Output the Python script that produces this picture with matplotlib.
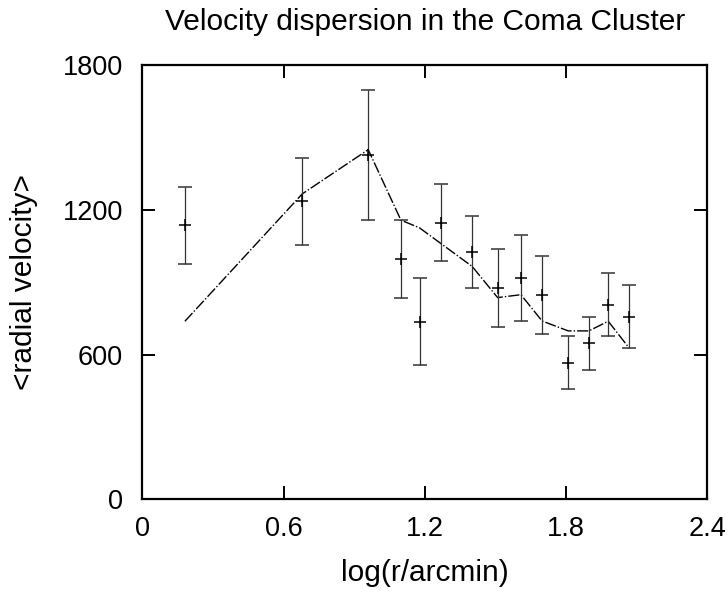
import numpy as np
import matplotlib
matplotlib.use("Agg")
import matplotlib.pyplot as plt

plt.rcParams['font.family'] = ['Liberation Sans', 'DejaVu Sans']

# measured velocity dispersion with errors
log_r = [0.181, 0.680, 0.960, 1.099, 1.178, 1.269, 1.402, 1.510, 1.609,
         1.699, 1.810, 1.898, 1.980, 2.069]
sigma = [1136, 1236, 1427, 996, 736, 1146, 1026, 876, 917,
         847, 566, 646, 806, 757]
sigma_err = [160, 180, 270, 160, 180, 160, 150, 160, 180,
             160, 110, 110, 130, 130]

# model curve
model_x = [0.181, 0.680, 0.960, 1.099, 1.178, 1.402, 1.510, 1.609,
           1.699, 1.810, 1.898, 1.980, 2.069]
model_y = [738, 1266, 1449, 1157, 1125, 965, 836, 848,
           739, 698, 698, 738, 627]

fig = plt.figure(figsize=(7.28, 5.94), dpi=100)
ax = fig.add_axes([0.1955, 0.1594, 0.7757, 0.7312])

ax.plot(model_x, model_y, color='black', lw=1.0, dashes=(8, 1.5, 1, 1.5))
ax.errorbar(log_r, sigma, yerr=sigma_err, fmt='+', color='black',
            ecolor='#333333', elinewidth=0.9, capsize=4.7, capthick=0.9,
            markersize=9, markeredgewidth=1.1)

ax.set_xlim(0, 2.4)
ax.set_ylim(0, 1800)
ax.set_xticks([0, 0.6, 1.2, 1.8, 2.4])
ax.set_xticklabels(['0', '0.6', '1.2', '1.8', '2.4'])
ax.set_yticks([0, 600, 1200, 1800])

ax.tick_params(direction='in', length=9.5, width=1.4, top=True, right=True,
               labelsize=19.5)
ax.tick_params(axis='x', pad=12)
ax.tick_params(axis='y', pad=14)
for s in ax.spines.values():
    s.set_linewidth(1.6)

ax.set_title('Velocity dispersion in the Coma Cluster', fontsize=21.5, pad=25)
ax.set_xlabel('log(r/arcmin)', fontsize=21.5, labelpad=12)
ax.set_ylabel('<radial velocity>', fontsize=21.5, labelpad=18)

fig.savefig('out.png', dpi=100)
